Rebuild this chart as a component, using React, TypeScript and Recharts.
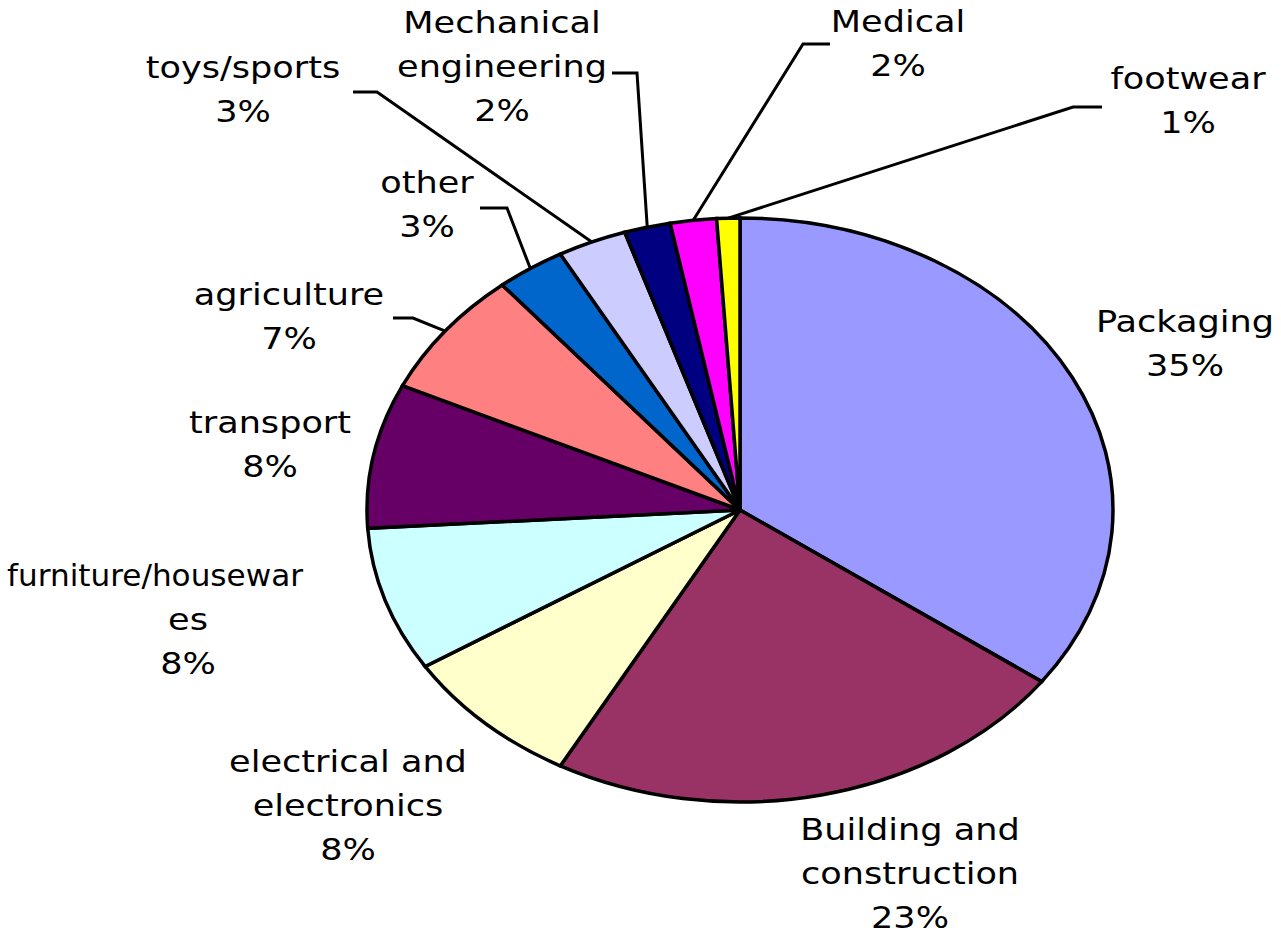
import { PieChart, Pie, Cell } from "recharts"

const categories = [
  "Packaging",
  "Building and construction",
  "electrical and electronics",
  "furniture/housewares",
  "transport",
  "agriculture",
  "other",
  "toys/sports",
  "Mechanical engineering",
  "Medical",
  "footwear",
]
const shares = [35, 23, 8, 8, 8, 7, 3, 3, 2, 2, 1]
const colors = [
  "#9999FF",
  "#993366",
  "#FFFFCC",
  "#CCFFFF",
  "#660066",
  "#FF8080",
  "#0066CC",
  "#CCCCFF",
  "#000080",
  "#FF00FF",
  "#FFFF00",
]

const data = categories.map((name, i) => ({ name, value: shares[i] }))

// pie geometry: circle stretched horizontally into an ellipse
const CX = 740
const CY = 510
const RY = 292
const RX = 373
const STRETCH = RX / RY

// text style
const FONT = "DejaVu Sans"
const FONT_SIZE = 30
const TEXT_SX = 1.17
const LINE_GAP = 44

// where each label sits (centre x, first baseline), how it wraps, leader elbow/end
type LabelLayout = {
  x: number
  y: number
  lines: string[]
  dx?: number[]
  fit?: (number | undefined)[]
  elbow?: [number, number]
  end?: [number, number]
}
const labelLayout: Record<string, LabelLayout> = {
  Packaging: { x: 1185, y: 332, lines: ["Packaging"] },
  "Building and construction": { x: 910, y: 840, lines: ["Building and", "construction"] },
  "electrical and electronics": { x: 348, y: 772, lines: ["electrical and", "electronics"] },
  "furniture/housewares": {
    x: 188,
    y: 586,
    lines: ["furniture/housewar", "es"],
    dx: [-33, 0, 0],
    fit: [296],
  },
  transport: { x: 270, y: 433, lines: ["transport"] },
  agriculture: { x: 289, y: 305, lines: ["agriculture"], elbow: [413, 318], end: [393, 318] },
  other: { x: 427, y: 193, lines: ["other"], elbow: [507, 208], end: [480, 208] },
  "toys/sports": { x: 243, y: 78, lines: ["toys/sports"], elbow: [377, 92], end: [353, 92] },
  "Mechanical engineering": {
    x: 502,
    y: 33,
    lines: ["Mechanical", "engineering"],
    elbow: [637, 73],
    end: [612, 73],
  },
  Medical: { x: 898, y: 32, lines: ["Medical"], elbow: [803, 44], end: [830, 44] },
  footwear: { x: 1188, y: 89, lines: ["footwear"], elbow: [1073, 107], end: [1102, 107] },
}

const RAD = Math.PI / 180

function ellipsePoint(cx: number, cy: number, r: number, angle: number) {
  return {
    x: cx + Math.cos(-angle * RAD) * r * STRETCH,
    y: cy + Math.sin(-angle * RAD) * r,
  }
}

function EllipseSector(props: any) {
  const { cx, cy, outerRadius, startAngle, endAngle, fill } = props
  const p1 = ellipsePoint(cx, cy, outerRadius, startAngle)
  const p2 = ellipsePoint(cx, cy, outerRadius, endAngle)
  const span = Math.abs(endAngle - startAngle)
  const large = span > 180 ? 1 : 0
  const sweep = startAngle > endAngle ? 1 : 0
  const d = `M${cx},${cy} L${p1.x},${p1.y} A${outerRadius * STRETCH},${outerRadius} 0 ${large} ${sweep} ${p2.x},${p2.y} Z`
  return <path d={d} fill={fill} stroke="#000" strokeWidth={3.5} strokeLinejoin="miter" />
}

function SliceLabel(props: any) {
  const { cx, cy, outerRadius, midAngle, name, value } = props
  const lay = labelLayout[name]
  if (!lay) return null
  const lines = [...lay.lines, `${value}%`]
  let leader = null
  if (lay.elbow && lay.end) {
    const s = ellipsePoint(cx, cy, outerRadius, midAngle)
    leader = (
      <polyline
        points={`${s.x},${s.y} ${lay.elbow[0]},${lay.elbow[1]} ${lay.end[0]},${lay.end[1]}`}
        fill="none"
        stroke="#000"
        strokeWidth={3}
      />
    )
  }
  return (
    <g>
      {leader}
      {lines.map((t, i) => {
        const fit = lay.fit ? lay.fit[i] : undefined
        return (
          <text
            key={i}
            transform={`translate(${lay.x + (lay.dx ? lay.dx[i] : 0)},${lay.y + i * LINE_GAP}) scale(${TEXT_SX},1)`}
            textAnchor="middle"
            fontFamily={FONT}
            fontSize={FONT_SIZE}
            fill="#000"
            textLength={fit ? fit / TEXT_SX : undefined}
            lengthAdjust={fit ? "spacingAndGlyphs" : undefined}
          >
            {t}
          </text>
        )
      })}
    </g>
  )
}

export default function App() {
  return (
    <div style={{ position: "absolute", left: 0, top: 0, width: 1281, height: 935, background: "#fff" }}>
      <PieChart width={1281} height={935} margin={{ top: 0, right: 0, bottom: 0, left: 0 }}>
        <Pie
          data={data}
          dataKey="value"
          nameKey="name"
          cx={CX}
          cy={CY}
          outerRadius={RY}
          startAngle={90}
          endAngle={-270}
          shape={EllipseSector}
          label={SliceLabel}
          labelLine={false}
          isAnimationActive={false}
        >
          {data.map((d, i) => (
            <Cell key={d.name} fill={colors[i]} />
          ))}
        </Pie>
      </PieChart>
    </div>
  )
}
